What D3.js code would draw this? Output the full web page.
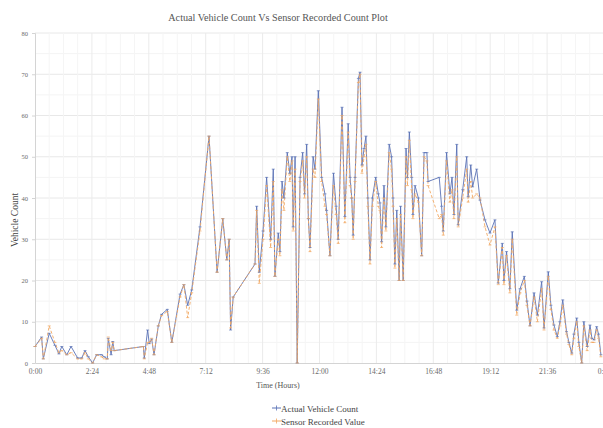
<!DOCTYPE html>
<html>
<head>
<meta charset="utf-8">
<script src="https://cdn.jsdelivr.net/npm/d3@7"></script>
<style>
  html, body { margin: 0; padding: 0; background: #fff; }
  svg { display: block; font-family: "Liberation Serif", "DejaVu Serif", serif; }
</style>
</head>
<body>
<svg id="chart" width="603" height="428"></svg>
<script>
// Time of each reading, in hours after midnight
const hours = [
  0.00, 0.28, 0.35, 0.60, 0.84, 1.01, 1.13, 1.34, 1.52, 1.80, 1.97, 2.11, 2.25, 2.43, 2.60, 2.81,
  2.92, 3.05, 3.09, 3.21, 3.28, 3.34, 4.57, 4.61, 4.75, 4.82, 4.92, 5.02, 5.20, 5.34, 5.58, 5.77,
  6.12, 6.28, 6.44, 6.61, 6.96, 7.34, 7.68, 7.92, 8.09, 8.19, 8.25, 8.36, 9.28, 9.35, 9.46, 9.62,
  9.77, 9.94, 10.05, 10.12, 10.26, 10.33, 10.42, 10.50, 10.64, 10.75, 10.84, 10.89, 10.97, 11.06,
  11.18, 11.29, 11.37, 11.46, 11.53, 11.60, 11.73, 11.81, 11.95, 12.09, 12.23, 12.30, 12.44, 12.59,
  12.70, 12.79, 12.95, 13.07, 13.21, 13.29, 13.36, 13.42, 13.50, 13.64, 13.71, 13.79, 13.88, 13.96,
  14.04, 14.13, 14.23, 14.37, 14.48, 14.55, 14.62, 14.72, 14.80, 14.94, 15.04, 15.10, 15.18, 15.26,
  15.36, 15.42, 15.53, 15.65, 15.71, 15.79, 15.89, 15.94, 16.03, 16.17, 16.31, 16.41, 16.53, 16.58,
  17.05, 17.15, 17.22, 17.36, 17.50, 17.59, 17.67, 17.79, 17.85, 18.04, 18.21, 18.27, 18.38, 18.46,
  18.63, 18.77, 18.98, 19.19, 19.40, 19.54, 19.71, 19.78, 19.89, 20.03, 20.13, 20.32, 20.46, 20.64,
  20.75, 20.88, 21.05, 21.19, 21.37, 21.47, 21.65, 21.76, 21.89, 22.03, 22.14, 22.26, 22.42, 22.52,
  22.64, 22.73, 22.85, 22.94, 23.06, 23.15, 23.29, 23.41, 23.49, 23.58, 23.69, 23.77, 23.87
];

// Vehicles counted by hand at each reading
const actualCount = [
  4, 6.3, 1, 7.2, 4.3, 2.2, 4, 2, 4, 1.2, 1.2, 3, 1.5, 0, 2, 2,
  1.5, 1, 6, 2, 5.2, 3, 4, 1.2, 8, 4.7, 5.8, 2, 9, 11.8, 13, 5,
  16.7, 19, 14, 17.7, 33, 55, 22, 35, 25, 30, 8, 16, 24, 38, 22, 32,
  45, 30, 47, 21, 31.5, 27, 44, 40, 51, 46, 50, 33, 50, 0,
  45, 51, 41, 53, 35, 28, 50, 47, 66, 45, 41, 37, 26, 46,
  38, 30, 62, 35.5, 58, 45, 40, 31, 45, 69, 70.5, 48, 52, 55,
  40, 25, 40, 45, 41, 38.8, 29.4, 43, 33, 53, 50, 40, 24, 37,
  20, 38, 20, 52, 45, 56, 45, 36, 43, 40, 26, 51, 51, 44,
  45, 38, 32, 51, 41, 45, 36, 53, 33.5, 42, 50, 40.3, 48, 42.7,
  47, 39.5, 34.7, 31.5, 34.7, 19.4, 29, 20, 27, 18, 31.8, 12.8, 18, 21,
  15, 9, 17, 11.6, 19.7, 8.5, 22.1, 14, 9.2, 6.4, 10, 15.3, 7.6, 5,
  2.4, 7, 10.9, 5, 0, 10, 4, 9.2, 6, 5.6, 8.8, 7, 2
];

// Vehicles recorded by the sensor at each reading
const sensorCount = [
  4, 6, 1, 9, 5, 2.5, 3, 2, 2.5, 1, 1, 2.5, 1, 0, 2, 1.5,
  1, 1, 6.3, 3, 5, 3, 4, 1, 5, 5, 6, 2, 9, 11.5, 12.5, 5,
  16, 19, 11, 17, 32, 55, 22, 35, 25, 30, 8.5, 16, 24, 37, 19.3, 30,
  43, 28, 44, 21, 30, 26, 42, 37, 50, 44, 49, 32, 47, 0,
  44, 49, 40, 50, 35, 27, 47, 45, 64, 44, 38, 36, 26, 43,
  36, 29, 60, 34, 56, 43, 40, 30, 44, 68, 70, 46, 50, 53,
  38, 24, 38, 44, 38, 37, 28, 40, 32, 51, 47, 38, 23, 35,
  20, 36, 20, 50, 43, 54, 42, 35, 41, 39, 26, 50, 49, 43,
  35, 36, 31, 49, 39, 42, 35, 50, 33, 40, 47, 39, 44, 40,
  41, 40, 33, 28.6, 33, 19, 28, 19, 26, 17, 30, 11.6, 17, 20,
  14, 9, 16, 10, 18, 8, 21, 13, 8, 6, 9, 14, 7, 4.5,
  2, 6, 10, 4, 0, 9, 3, 8, 5, 5, 8, 6, 1.5
];

// Axis ticks
const xTickHours = [0, 2.4, 4.8, 7.2, 9.6, 12, 14.4, 16.8, 19.2, 21.6, 24];
const yTickValues = [0, 10, 20, 30, 40, 50, 60, 70, 80];

const seriesNames = ["Actual Vehicle Count", "Sensor Recorded Value"];
const seriesColors = ["#5a72b6", "#f2a862"];

const svg = d3.select("#chart");
const plot = { left: 35, right: 604, top: 33, bottom: 363 };

const x = d3.scaleLinear().domain([0, 24]).range([plot.left, plot.right]);
const y = d3.scaleLinear().domain([0, 80]).range([plot.bottom, plot.top]);

const fmtTime = h => {
  const total = Math.round((h % 24) * 60);
  const hh = Math.floor(total / 60), mm = total % 60;
  return hh + ":" + String(mm).padStart(2, "0");
};

// Gridlines: faint minor lines, slightly stronger major ones
const grid = svg.append("g");
grid.selectAll("line.hmin")
  .data(d3.range(0, 81, 5).filter(v => v % 10 !== 0))
  .join("line")
  .attr("x1", plot.left).attr("x2", plot.right)
  .attr("y1", d => y(d)).attr("y2", d => y(d))
  .attr("stroke", "#f4f4f4").attr("stroke-width", 1);
grid.selectAll("line.hmaj")
  .data(yTickValues.filter(v => v > 0))
  .join("line")
  .attr("x1", plot.left).attr("x2", plot.right)
  .attr("y1", d => y(d)).attr("y2", d => y(d))
  .attr("stroke", "#e8e8e8").attr("stroke-width", 1);
grid.selectAll("line.vmin")
  .data(d3.range(0.6, 24, 0.6).filter(h => Math.abs(h / 2.4 - Math.round(h / 2.4)) > 0.01))
  .join("line")
  .attr("x1", d => x(d)).attr("x2", d => x(d))
  .attr("y1", plot.top).attr("y2", plot.bottom)
  .attr("stroke", "#f5f5f5").attr("stroke-width", 1);
grid.selectAll("line.vmaj")
  .data(xTickHours.slice(1))
  .join("line")
  .attr("x1", d => x(d)).attr("x2", d => x(d))
  .attr("y1", plot.top).attr("y2", plot.bottom)
  .attr("stroke", "#ebebeb").attr("stroke-width", 1);

// Axes
const xAxis = d3.axisBottom(x).tickValues(xTickHours).tickFormat(fmtTime).tickSize(0).tickPadding(6);
const yAxis = d3.axisLeft(y).tickValues(yTickValues).tickSize(3).tickPadding(4);

const gx = svg.append("g").attr("transform", `translate(0,${plot.bottom})`).call(xAxis);
gx.select(".domain").attr("stroke", "#d4d4d4");
gx.selectAll("text").attr("font-size", 7.5).attr("fill", "#6a6a6a").attr("font-family", "Liberation Serif");

const gy = svg.append("g").attr("transform", `translate(${plot.left},0)`).call(yAxis);
gy.select(".domain").attr("stroke", "#d4d4d4");
gy.selectAll(".tick line").attr("stroke", "#d4d4d4");
gy.selectAll("text").attr("font-size", 6.5).attr("fill", "#6a6a6a").attr("font-family", "Liberation Serif");

// Series
const rows = hours.map((h, i) => ({ h, a: actualCount[i], s: sensorCount[i] }));
const lineA = d3.line().x(d => x(d.h)).y(d => y(d.a));
const lineS = d3.line().x(d => x(d.h)).y(d => y(d.s));

svg.append("path").datum(rows)
  .attr("d", lineA).attr("fill", "none")
  .attr("stroke", seriesColors[0]).attr("stroke-width", 0.9).attr("stroke-linejoin", "round");

svg.append("path").datum(rows)
  .attr("d", lineS).attr("fill", "none")
  .attr("stroke", seriesColors[1]).attr("stroke-width", 0.9)
  .attr("stroke-dasharray", "3,2").attr("stroke-linejoin", "round");

// Small dash markers on each reading
svg.append("g").selectAll("line").data(rows).join("line")
  .attr("x1", d => x(d.h) - 1.5).attr("x2", d => x(d.h) + 1.5)
  .attr("y1", d => y(d.a)).attr("y2", d => y(d.a))
  .attr("stroke", seriesColors[0]).attr("stroke-width", 0.7);
svg.append("g").selectAll("line").data(rows).join("line")
  .attr("x1", d => x(d.h) - 1.5).attr("x2", d => x(d.h) + 1.5)
  .attr("y1", d => y(d.s)).attr("y2", d => y(d.s))
  .attr("stroke", seriesColors[1]).attr("stroke-width", 0.7);

// Titles
svg.append("text")
  .attr("x", 278).attr("y", 21)
  .attr("text-anchor", "middle")
  .attr("font-size", 10.2).attr("fill", "#555")
  .text("Actual Vehicle Count Vs Sensor Recorded Count Plot");

svg.append("text")
  .attr("transform", `translate(18,${(plot.top + plot.bottom) / 2 + 22}) rotate(-90)`)
  .attr("text-anchor", "middle")
  .attr("font-size", 9.5).attr("fill", "#444")
  .text("Vehicle Count");

svg.append("text")
  .attr("x", 278).attr("y", 388)
  .attr("text-anchor", "middle")
  .attr("font-size", 8).attr("fill", "#555")
  .text("Time (Hours)");

// Legend
const legend = svg.append("g").attr("transform", "translate(272,408)");
seriesNames.forEach((name, i) => {
  const g = legend.append("g").attr("transform", `translate(0,${i * 13})`);
  g.append("line").attr("x1", 0).attr("x2", 9).attr("y1", 0).attr("y2", 0)
    .attr("stroke", seriesColors[i]).attr("stroke-width", 1);
  g.append("line").attr("x1", 4.5).attr("x2", 4.5).attr("y1", -2.5).attr("y2", 2.5)
    .attr("stroke", seriesColors[i]).attr("stroke-width", 0.8);
  g.append("text").attr("x", 9).attr("y", 3.5)
    .attr("font-size", 9).attr("fill", "#444")
    .text(name);
});
</script>
</body>
</html>
